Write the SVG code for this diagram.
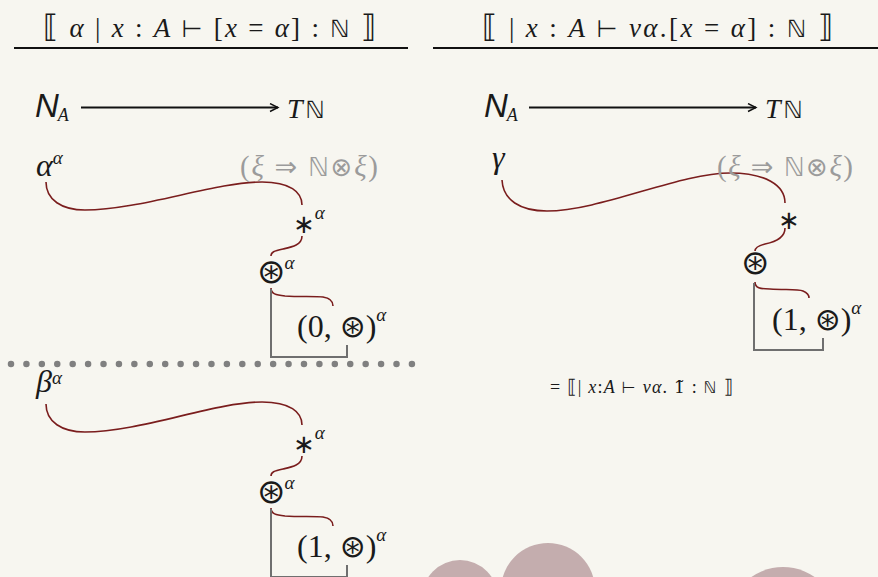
<svg xmlns="http://www.w3.org/2000/svg" width="878" height="577" viewBox="0 0 878 577">
<defs>
<style>
.bg{fill:#f7f6f0}
.t{font-family:"Liberation Serif","DejaVu Serif",serif;fill:#1a1a1a}
.it{font-style:italic}
.sy{font-family:"DejaVu Sans","Noto Sans",sans-serif;font-style:normal}
.ds{font-family:"DejaVu Serif",serif;font-style:normal}
.sf{font-family:"Liberation Sans","DejaVu Sans",sans-serif;font-style:italic}
.gr{fill:#9b9b9b}
.rule{stroke:#111;stroke-width:2.2}
.wire{fill:none;stroke:#7a1d1d;stroke-width:1.6}
.br{fill:none;stroke:#6f6f6f;stroke-width:2}
.arr{stroke:#111;stroke-width:1.8;fill:none}
.dots{stroke:#808080;stroke-width:6.5;stroke-linecap:round;stroke-dasharray:0 15.42}
.blob{fill:#c4adae}
</style>
<marker id="ah" markerUnits="userSpaceOnUse" markerWidth="12" markerHeight="12" refX="9" refY="5" orient="auto">
<path d="M1,1 L9,5 L1,9" fill="none" stroke="#111" stroke-width="1.4"/>
</marker>
</defs>
<rect class="bg" x="0" y="0" width="878" height="577"/>

<g id="blobs">
<circle class="blob" cx="460" cy="598" r="38"/>
<circle class="blob" cx="548" cy="590" r="47"/>
<circle class="blob" cx="783" cy="622" r="55"/>
</g>

<g id="title-left">
<text class="t" x="209.5" y="37" font-size="27" text-anchor="middle" textLength="333" lengthAdjust="spacing"><tspan class="sy" font-size="31">⟦</tspan> <tspan class="it">α</tspan> | <tspan class="it">x</tspan> : <tspan class="it">A</tspan> <tspan class="sy" font-size="24">⊢</tspan> [<tspan class="it">x</tspan> = <tspan class="it">α</tspan>] : <tspan class="sy" font-size="24">ℕ</tspan> <tspan class="sy" font-size="31">⟧</tspan></text>
<line class="rule" x1="14" y1="48" x2="408" y2="48"/>
</g>
<g id="title-right">
<text class="t" x="657.5" y="37" font-size="27" text-anchor="middle" textLength="351" lengthAdjust="spacing"><tspan class="sy" font-size="31">⟦</tspan> | <tspan class="it">x</tspan> : <tspan class="it">A</tspan> <tspan class="sy" font-size="24">⊢</tspan> <tspan class="it">να</tspan>.[<tspan class="it">x</tspan> = <tspan class="it">α</tspan>] : <tspan class="sy" font-size="24">ℕ</tspan> <tspan class="sy" font-size="31">⟧</tspan></text>
<line class="rule" x1="433" y1="48" x2="878" y2="48"/>
</g>

<g id="NA-left"><text class="t" x="35" y="117"><tspan class="sf" font-size="33">N</tspan><tspan class="it" font-size="18" dy="4" dx="-1">A</tspan></text></g>
<g id="TN-left"><text class="t" x="287" y="118" font-size="28"><tspan class="it">T</tspan><tspan class="sy" font-size="24" dx="3">ℕ</tspan></text></g>
<g id="NA-right"><text class="t" x="484" y="117"><tspan class="sf" font-size="33">N</tspan><tspan class="it" font-size="18" dy="4" dx="-1">A</tspan></text></g>
<g id="TN-right"><text class="t" x="765" y="118" font-size="28"><tspan class="it">T</tspan><tspan class="sy" font-size="24" dx="3">ℕ</tspan></text></g>

<g id="connectors">
<line class="arr" x1="81" y1="107.5" x2="278" y2="107.5" marker-end="url(#ah)"/>
<line class="arr" x1="529" y1="107.5" x2="756" y2="107.5" marker-end="url(#ah)"/>
<path class="wire" d="M46,182 C46,200 62,210 85,210 C140,210 215,182 262,182 C290,182 302,192 302,205"/>
<path class="wire" d="M302,236 C302,245 292,247 283,249 C274,251 271,252 271,256"/>
<path class="wire" d="M271,288 C271,294 276,295 285,296 C300,297 315,296 323,297 C330,298 333,301 333,306"/>
<path class="br" d="M271,289 V357 H347 V345"/>
<g transform="translate(0,220)">
<path class="wire" d="M46,184 C46,202 62,212 85,212 C140,212 215,182 262,182 C290,182 302,192 302,205"/>
<path class="wire" d="M302,236 C302,245 292,247 283,249 C274,251 271,252 271,256"/>
<path class="wire" d="M271,288 C271,294 276,295 285,296 C300,297 315,296 323,297 C330,298 333,301 333,306"/>
<path class="br" d="M271,289 V357 H347 V345"/>
</g>
<path class="wire" d="M502,180 C503,200 520,211 547,211 C600,211 680,173 730,173 C765,173 785,185 785,203"/>
<path class="wire" d="M785,228 C785,238 775,242 765,244 C757,246 755,248 755,251"/>
<path class="wire" d="M755,282 C755,288 760,289 770,289 C785,290 798,289 803,291 C808,293 809,295 809,298"/>
<path class="br" d="M754,283 V350 H823 V338"/>
</g>

<line class="dots" x1="11" y1="364" x2="415" y2="364"/>

<g id="left-top">
<text class="t" x="36" y="176"><tspan class="it" font-size="32">α</tspan><tspan class="it" font-size="19" dy="-12">α</tspan></text>
<text class="t gr" x="240" y="176" font-size="29" textLength="138" lengthAdjust="spacing">(<tspan class="it">ξ</tspan> <tspan class="sy" font-size="27">⇒</tspan> <tspan class="sy" font-size="26">ℕ⊗</tspan><tspan class="it">ξ</tspan>)</text>
<text class="t" x="293" y="233"><tspan class="sy" font-size="26">∗</tspan><tspan class="it" font-size="19" dy="-14">α</tspan></text>
<text class="t" x="257" y="283"><tspan class="sy" font-size="34">⊛</tspan><tspan class="it" font-size="19" dy="-14" dx="-1">α</tspan></text>
<text class="t" x="297" y="337" font-size="32">(0, <tspan class="sy" font-size="31">⊛</tspan>)<tspan class="it" font-size="19" dy="-16">α</tspan></text>
</g>

<g id="left-bottom" transform="translate(0,220)">
<text class="t" x="36" y="172"><tspan class="it" font-size="32">β</tspan><tspan class="it" font-size="19" dy="-8">α</tspan></text>
<text class="t" x="293" y="233"><tspan class="sy" font-size="26">∗</tspan><tspan class="it" font-size="19" dy="-14">α</tspan></text>
<text class="t" x="257" y="283"><tspan class="sy" font-size="34">⊛</tspan><tspan class="it" font-size="19" dy="-14" dx="-1">α</tspan></text>
<text class="t" x="297" y="337" font-size="32">(1, <tspan class="sy" font-size="31">⊛</tspan>)<tspan class="it" font-size="19" dy="-16">α</tspan></text>
</g>

<g id="right">
<text class="t it" x="492" y="168" font-size="32">γ</text>
<text class="t gr" x="717" y="176" font-size="29" textLength="136" lengthAdjust="spacing">(<tspan class="it">ξ</tspan> <tspan class="sy" font-size="27">⇒</tspan> <tspan class="sy" font-size="26">ℕ⊗</tspan><tspan class="it">ξ</tspan>)</text>
<text class="t" x="778" y="229"><tspan class="sy" font-size="26">∗</tspan></text>
<text class="t" x="741" y="274"><tspan class="sy" font-size="34">⊛</tspan></text>
<text class="t" x="772" y="330" font-size="32">(1, <tspan class="sy" font-size="31">⊛</tspan>)<tspan class="it" font-size="19" dy="-16">α</tspan></text>
<text class="t" x="550" y="393" font-size="18" textLength="183" lengthAdjust="spacing">= <tspan class="sy" font-size="19">⟦</tspan>| <tspan class="it">x</tspan>:<tspan class="it">A</tspan> <tspan class="sy" font-size="16">⊢</tspan> <tspan class="it">να</tspan>. <tspan class="ds" font-size="17">1̃</tspan> : <tspan class="sy" font-size="16">ℕ</tspan> <tspan class="sy" font-size="19">⟧</tspan></text>
</g>
</svg>
